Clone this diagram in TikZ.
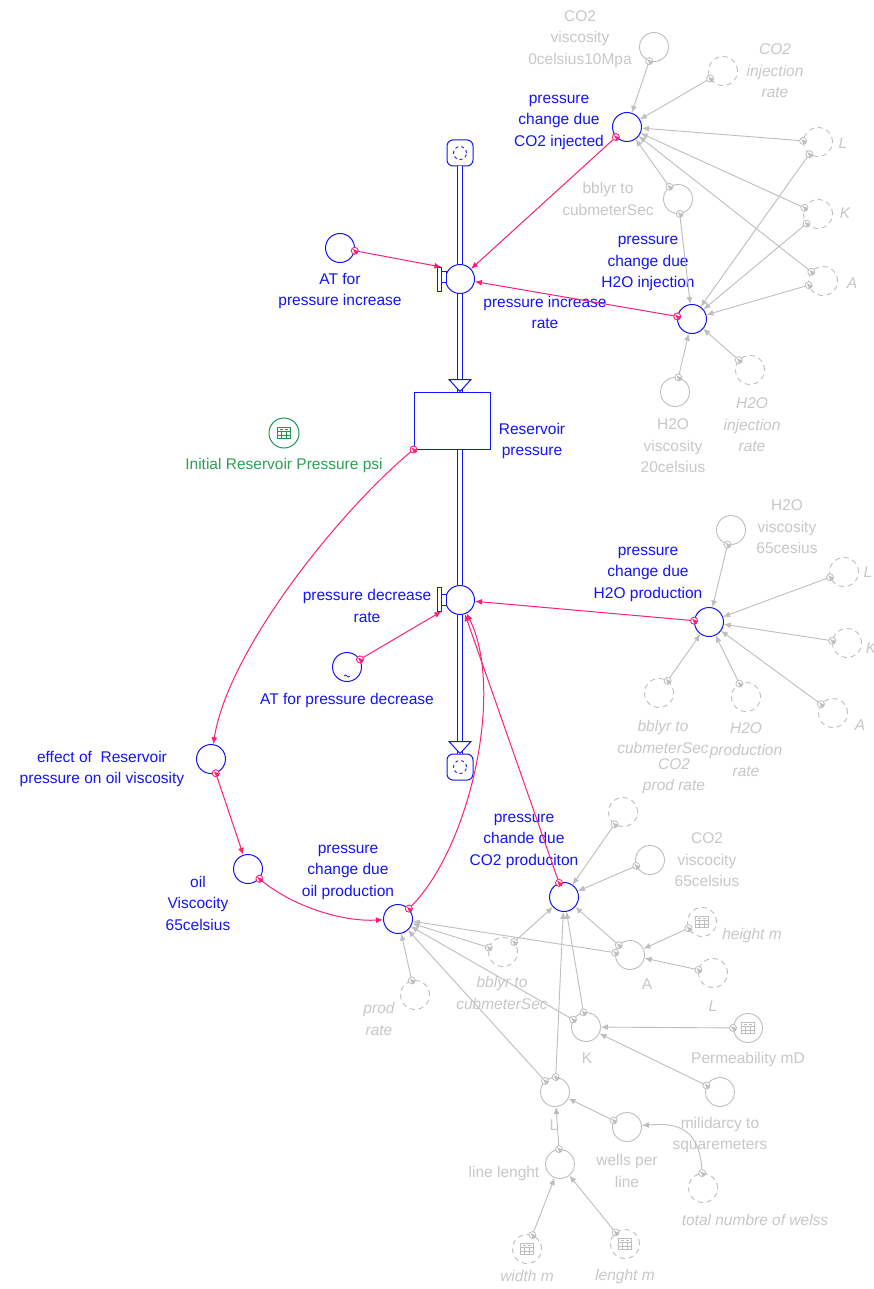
\documentclass[tikz,border=0pt]{standalone}
\usepackage{fontspec}
\setmainfont{Liberation Sans}
\usetikzlibrary{arrows.meta}
\definecolor{flowblue}{RGB}{20,20,250}
\definecolor{linkpink}{RGB}{255,30,120}
\definecolor{ghostgrey}{RGB}{190,190,190}
\definecolor{ghosttext}{RGB}{200,200,200}
\definecolor{tblgreen}{RGB}{30,150,80}
\definecolor{tblgreentext}{RGB}{45,160,85}

\begin{document}
\begin{tikzpicture}[x=1pt,y=-1pt,
  lbl/.style={font=\fontsize{15.5}{21.5}\selectfont, align=center, inner sep=0pt},
  bluelbl/.style={lbl, text=flowblue},
  greylbl/.style={lbl, text=ghosttext},
  ghostlbl/.style={lbl, text=ghosttext, font=\fontsize{15.5}{21.5}\selectfont\itshape},
  conv/.style={circle, draw=flowblue, line width=1pt, minimum size=29pt, inner sep=0pt, fill=white},
  gconv/.style={circle, draw=ghostgrey, line width=0.9pt, minimum size=29pt, inner sep=0pt, fill=white},
  ghost/.style={gconv, dash pattern=on 5pt off 4pt},
  tblicon/.style={path picture={
    \begin{scope}[shift={(path picture bounding box.center)}, x=1pt, y=1pt, line width=0.7pt, color=#1, solid]
      \draw (-6.5,-5.5) rectangle (6.5,5.5);
      \draw (-6.5,1.5) -- (6.5,1.5) (-6.5,-2) -- (6.5,-2) (-2.2,1.5) -- (-2.2,-5.5) (2.2,1.5) -- (2.2,-5.5);
      \draw (-4.2,3.5) -- (-1.2,3.5) (1.2,3.5) -- (4.2,3.5);
    \end{scope}}},
  cloud/.style={rectangle, draw=flowblue, line width=1pt, rounded corners=6pt, minimum size=26pt, inner sep=0pt, fill=white,
    path picture={\draw[flowblue, line width=0.9pt, dash pattern=on 3pt off 3pt] (path picture bounding box.center) circle (6.5pt);}},
  stock/.style={rectangle, draw=flowblue, line width=1pt, minimum width=76pt, minimum height=57pt, inner sep=0pt, fill=white},
  valvebar/.style={rectangle, draw=flowblue, line width=0.9pt, minimum width=4pt, minimum height=24pt, inner sep=0pt, fill=white},
  pipe/.style={draw=flowblue, line width=1pt, double=white, double distance=3.6pt},
  pdot/.style={circle, draw=linkpink, fill=white, line width=0.9pt, minimum size=7pt, inner sep=0pt,
    path picture={\draw[linkpink, line width=0.6pt] (path picture bounding box.center) -- ++(-2pt,2pt);}},
  gdot/.style={circle, draw=ghostgrey, fill=white, line width=0.8pt, minimum size=7pt, inner sep=0pt,
    path picture={\draw[ghostgrey, line width=0.6pt] (path picture bounding box.center) -- ++(-2pt,2pt);}},
  plink/.style={draw=linkpink, line width=1pt, -{Latex[length=7pt,width=6pt]}},
  glink/.style={draw=ghostgrey, line width=0.9pt, -{Latex[length=7pt,width=6pt]}}
]
\useasboundingbox (0,0) rectangle (874,1289);
\fill[white] (0,0) rectangle (874,1289);

% ---------- labels ----------
\node[bluelbl] (l-co2i) at (559,122) {pressure\\change due\\CO2 injected};
\node[bluelbl] (l-atinc) at (340,291) {AT for\\pressure increase};
\node[bluelbl] (l-vin) at (545,312.5) {pressure increase\\rate};
\node[bluelbl] (l-h2oi) at (648,263.5) {pressure\\change due\\H2O injection};
\node[bluelbl] (l-stk) at (532,441) {Reservoir\\pressure};
\node[lbl, text=tblgreentext] (l-init) at (284,465) {Initial Reservoir Pressure psi};
\node[bluelbl] (l-vde) at (367,606) {pressure decrease\\rate};
\node[bluelbl] (l-h2op) at (648,574) {pressure\\change due\\H2O production};
\node[bluelbl] (l-atdec) at (347,700) {AT for pressure decrease};
\node[bluelbl] (l-eff) at (102,769) {effect of \ Reservoir\\pressure on oil viscosity};
\node[bluelbl] (l-oilv) at (198,903) {oil\\Viscocity\\65celsius};
\node[bluelbl] (l-oilp) at (348,872) {pressure\\change due\\oil production};
\node[bluelbl] (l-co2p) at (524,841) {pressure\\chande due\\CO2 produciton};

\node[greylbl] (l-co2v0) at (580,39) {CO2\\viscosity\\0celsius10Mpa};
\node[ghostlbl] (l-co2ir) at (775,71) {CO2\\injection\\rate};
\node[ghostlbl] (l-L1) at (843,143) {L};
\node[ghostlbl] (l-K1) at (845,213) {K};
\node[ghostlbl] (l-A1) at (852,283) {A};
\node[greylbl] (l-bbl1) at (608,199) {bblyr to\\cubmeterSec};
\node[greylbl] (l-h2ov20) at (673,446) {H2O\\viscosity\\20celsius};
\node[ghostlbl] (l-h2oir) at (752,425) {H2O\\injection\\rate};
\node[greylbl] (l-h2ov65) at (787,527) {H2O\\viscosity\\65cesius};
\node[ghostlbl] (l-L2) at (868,572) {L};
\node[ghostlbl] (l-K2) at (871,648) {K};
\node[ghostlbl] (l-A2) at (860,725) {A};
\node[ghostlbl] (l-bbl2) at (663,737) {bblyr to\\cubmeterSec};
\node[ghostlbl] (l-h2opr) at (746,750) {H2O\\production\\rate};
\node[ghostlbl] (l-co2pr) at (674,776) {CO2\\prod rate};
\node[greylbl] (l-co2v65) at (707,860) {CO2\\viscocity\\65celsius};
\node[ghostlbl] (l-height) at (752,935) {height m};
\node[greylbl] (l-A3) at (647,984) {A};
\node[ghostlbl] (l-L3) at (713,1006) {L};
\node[ghostlbl] (l-bbl3) at (502,993) {bblyr to\\cubmeterSec};
\node[ghostlbl] (l-prodr) at (379,1019) {prod\\rate};
\node[greylbl] (l-K3) at (587,1058) {K};
\node[greylbl] (l-perm) at (748,1059) {Permeability mD};
\node[greylbl] (l-mili) at (720,1135) {milidarcy to\\squaremeters};
\node[greylbl] (l-wells) at (627,1171) {wells per\\line};
\node[ghostlbl] (l-total) at (755,1220) {total numbre of welss};
\node[greylbl] (l-L4) at (554,1125) {L};
\node[greylbl] (l-linel) at (504,1173) {line lenght};
\node[ghostlbl] (l-width) at (527,1276) {width m};
\node[ghostlbl] (l-lenght) at (625,1276) {lenght m};

% ---------- stock and flows ----------
\node[cloud] (civ) at (460,153) {};
\node[conv] (vin) at (460,279) {};
\node[stock] (stk) at (452,420.5) {};
\node[conv] (vde) at (460,600) {};
\node[cloud] (cob) at (460,767) {};
\coordinate (stkin) at (vin |- stk.north);
\coordinate (stkout) at (vde |- stk.south);

\draw[pipe] (civ) -- (vin);
\draw[pipe] (vin) -- (stkin);
\draw[pipe] (stkout) -- (vde);
\draw[pipe] (vde) -- (cob);
\draw[flowblue, line width=1pt, fill=white] ([shift={(-11,-12)}]stkin) -- ([shift={(11,-12)}]stkin) -- (stkin) -- cycle;
\draw[flowblue, line width=1pt, fill=white] ([shift={(-11,-12)}]cob.north) -- ([shift={(11,-12)}]cob.north) -- (cob.north) -- cycle;

% valve handles
\node[valvebar] (vinbar) at (439,279.5) {};
\draw[flowblue, line width=0.9pt, fill=white] (441,271) rectangle (446.5,282);
\node[valvebar] (vdebar) at (439,599) {};
\draw[flowblue, line width=0.9pt, fill=white] (441,594) rectangle (446.5,605);

% ---------- converters ----------
\node[conv] (atinc) at (340,248) {};
\node[conv, path picture={\draw[flowblue, line width=0.7pt] ([shift={(-3pt,-9pt)}]path picture bounding box.center) sin ++(1.5pt,1pt) cos ++(1.5pt,-1pt) sin ++(1.5pt,-1pt) cos ++(1.5pt,1pt);}] (atdec) at (347,667) {};
\node[circle, draw=tblgreen, line width=1pt, minimum size=30pt, inner sep=0pt, fill=white, tblicon=tblgreen] (init) at (284,433) {};
\node[conv] (pcco2i) at (627,127) {};
\node[conv] (pch2oi) at (692,319) {};
\node[conv] (pch2op) at (709,622) {};
\node[conv] (effect) at (211,759) {};
\node[conv] (oilv) at (248,869) {};
\node[conv] (pcoil) at (398,919) {};
\node[conv] (pcco2p) at (564,897) {};

\node[gconv] (co2v0) at (654,47) {};
\node[ghost] (co2ir) at (723,71) {};
\node[ghost] (Lg1) at (818,142) {};
\node[ghost] (Kg1) at (818,214) {};
\node[ghost] (Ag1) at (823,281) {};
\node[gconv] (bbl1) at (678,199) {};
\node[gconv] (h2ov20) at (675,392) {};
\node[ghost] (h2oir) at (750,370) {};

\node[gconv] (h2ov65) at (731,530) {};
\node[ghost] (Lg2) at (844,572) {};
\node[ghost] (Kg2) at (847,643) {};
\node[ghost] (Ag2) at (833,713) {};
\node[ghost] (bbl2) at (659,693) {};
\node[ghost] (h2opr) at (746,697) {};

\node[ghost] (co2pr) at (623,812) {};
\node[gconv] (co2v65) at (650,860) {};
\node[ghost, tblicon=ghostgrey] (heightm) at (702,922) {};
\node[gconv] (Acv) at (630,955) {};
\node[ghost] (Lg3) at (713,973) {};
\node[ghost] (bbl3) at (503,952) {};
\node[ghost] (prodr) at (415,995) {};
\node[gconv] (Kcv) at (586,1027) {};
\node[gconv, tblicon=ghostgrey] (perm) at (748,1028) {};
\node[gconv] (mili) at (720,1092) {};
\node[gconv] (wells) at (627,1127) {};
\node[ghost] (total) at (703,1188) {};
\node[gconv] (Lcv) at (555,1092) {};
\node[gconv] (linel) at (560,1164) {};
\node[ghost, tblicon=ghostgrey] (widthm) at (527,1249) {};
\node[ghost, tblicon=ghostgrey] (lengthm) at (625,1244) {};

% ---------- grey connectors ----------
\draw[glink] (co2v0) -- (pcco2i) node[gdot,pos=0]{};
\draw[glink] (co2ir) -- (pcco2i) node[gdot,pos=0]{};
\draw[glink] (Lg1) -- (pcco2i) node[gdot,pos=0]{};
\draw[glink] (Kg1) -- (pcco2i) node[gdot,pos=0]{};
\draw[glink] (Ag1) -- (pcco2i) node[gdot,pos=0]{};
\draw[glink] (bbl1) -- (pcco2i) node[gdot,pos=0]{};
\draw[glink] (Lg1) -- (pch2oi) node[gdot,pos=0]{};
\draw[glink] (Kg1) -- (pch2oi) node[gdot,pos=0]{};
\draw[glink] (Ag1) -- (pch2oi) node[gdot,pos=0]{};
\draw[glink] (bbl1) -- (pch2oi) node[gdot,pos=0]{};
\draw[glink] (h2ov20) -- (pch2oi) node[gdot,pos=0]{};
\draw[glink] (h2oir) -- (pch2oi) node[gdot,pos=0]{};

\draw[glink] (h2ov65) -- (pch2op) node[gdot,pos=0]{};
\draw[glink] (Lg2) -- (pch2op) node[gdot,pos=0]{};
\draw[glink] (Kg2) -- (pch2op) node[gdot,pos=0]{};
\draw[glink] (Ag2) -- (pch2op) node[gdot,pos=0]{};
\draw[glink] (bbl2) -- (pch2op) node[gdot,pos=0]{};
\draw[glink] (h2opr) -- (pch2op) node[gdot,pos=0]{};

\draw[glink] (co2pr) -- (pcco2p) node[gdot,pos=0]{};
\draw[glink] (co2v65) -- (pcco2p) node[gdot,pos=0]{};
\draw[glink] (Acv) -- (pcco2p) node[gdot,pos=0]{};
\draw[glink] (bbl3) -- (pcco2p) node[gdot,pos=0]{};
\draw[glink] (Kcv) -- (pcco2p) node[gdot,pos=0]{};
\draw[glink] (Lcv) -- (pcco2p) node[gdot,pos=0]{};
\draw[glink] (Acv) -- (pcoil) node[gdot,pos=0]{};
\draw[glink] (bbl3) -- (pcoil) node[gdot,pos=0]{};
\draw[glink] (Kcv) -- (pcoil) node[gdot,pos=0]{};
\draw[glink] (Lcv) -- (pcoil) node[gdot,pos=0]{};
\draw[glink] (prodr) -- (pcoil) node[gdot,pos=0]{};
\draw[glink] (heightm) -- (Acv) node[gdot,pos=0]{};
\draw[glink] (Lg3) -- (Acv) node[gdot,pos=0]{};
\draw[glink] (perm) -- (Kcv) node[gdot,pos=0]{};
\draw[glink] (mili) -- (Kcv) node[gdot,pos=0]{};
\draw[glink] (wells) -- (Lcv) node[gdot,pos=0]{};
\draw[glink] (linel) -- (Lcv) node[gdot,pos=0]{};
\draw[glink] (widthm) -- (linel) node[gdot,pos=0]{};
\draw[glink] (lengthm) -- (linel) node[gdot,pos=0]{};
\draw[glink] (total) .. controls (700,1130) and (680,1122) .. (wells) node[gdot,pos=0]{};

% ---------- pink connectors ----------
\draw[plink] (pcco2i) -- (vin) node[pdot,pos=0]{};
\draw[plink] (atinc) -- (vinbar.north east) node[pdot,pos=0]{};
\draw[plink] (pch2oi) -- (vin) node[pdot,pos=0]{};
\draw[plink] (stk.south west) .. controls (340,510) and (228,650) .. (effect) node[pdot,pos=0]{};
\draw[plink] (effect) -- (oilv) node[pdot,pos=0]{};
\draw[plink] (oilv) .. controls (290,905) and (340,922) .. (pcoil) node[pdot,pos=0]{};
\draw[plink] (pcoil) .. controls (470,850) and (505,690) .. (vde) node[pdot,pos=0]{};
\draw[plink] (pcco2p) -- (vde) node[pdot,pos=0]{};
\draw[plink] (pch2op) -- (vde) node[pdot,pos=0]{};
\draw[plink] (atdec) -- (vdebar.south east) node[pdot,pos=0]{};
\end{tikzpicture}
\end{document}
